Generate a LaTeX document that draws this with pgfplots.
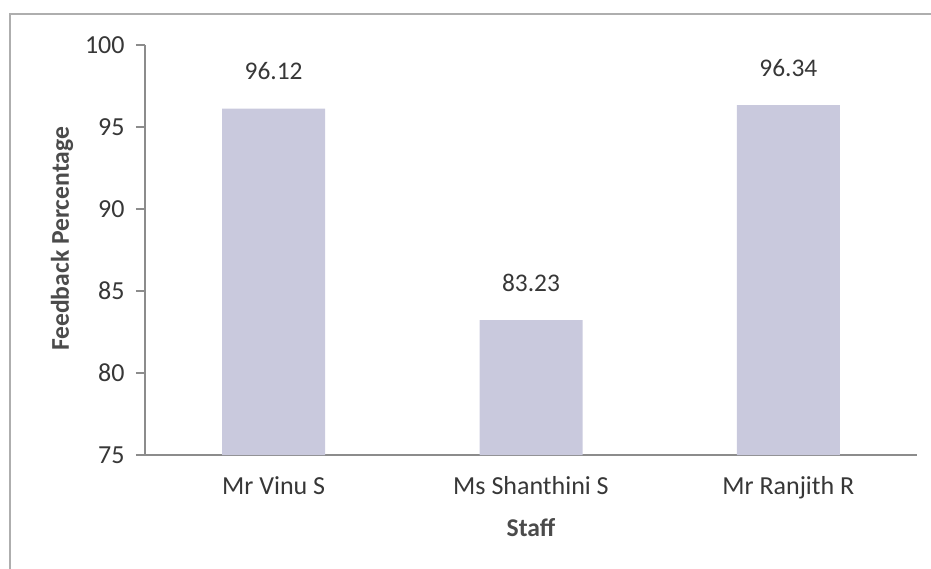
\documentclass[border=0pt]{standalone}
\usepackage{pgfplots}
\pgfplotsset{compat=1.18}
\usepackage{fontspec}
\setmainfont{Carlito}
\definecolor{barcol}{RGB}{201,201,221}
\definecolor{txt}{RGB}{55,55,55}
\definecolor{axcol}{RGB}{140,140,140}
\begin{document}
\begin{tikzpicture}
\path[use as bounding box] (0,0) rectangle (465.5pt,284pt);
\draw[axcol!70, line width=0.6pt] (5pt,-5pt) -- (5pt,277pt) -- (470pt,277pt);
\begin{axis}[
  at={(72.5pt,56.5pt)}, anchor=south west,
  scale only axis, width=386pt, height=205pt,
  xmin=-0.5, xmax=2.5, ymin=75, ymax=100,
  ytick={75,80,85,90,95,100},
  xtick={0,1,2},
  xticklabels={Mr Vinu S, Ms Shanthini S, Mr Ranjith R},
  axis x line=bottom, axis y line=left,
  axis line style={-, axcol, line width=0.6pt},
  x tick style={draw=none},
  y tick style={axcol, line width=0.6pt},
  tick align=outside, major tick length=4.5pt,
  ticklabel style={font=\fontsize{13}{15}\selectfont, text=txt},
  yticklabel style={anchor=east, inner sep=0pt, xshift=-5.5pt},
  xticklabel style={anchor=base, inner sep=0pt},
  every x tick label/.append style={yshift=-15pt},
  xlabel={\textbf{Staff}},
  ylabel={\textbf{Feedback Percentage}},
  label style={font=\fontsize{12.8}{15}\selectfont, text=txt!90},
  xlabel style={at={(axis description cs:0.5,-0.1976)}, anchor=base, inner sep=0pt},
  ylabel style={at={(axis description cs:-0.1075,0.527)}, anchor=center, inner sep=0pt},
  ybar, bar width=51.5pt,
  nodes near coords,
  every node near coord/.append style={font=\fontsize{12.7}{15}\selectfont, text=txt, anchor=base, yshift=14.5pt, inner sep=0pt,
    /pgf/number format/fixed, /pgf/number format/precision=2, /pgf/number format/fixed zerofill,
    /pgf/number format/assume math mode=true},
  /pgf/number format/assume math mode=true,
  clip=false,
]
\addplot[fill=barcol, draw=none] coordinates {(0,96.12) (1,83.23) (2,96.34)};
\end{axis}
\end{tikzpicture}
\end{document}
